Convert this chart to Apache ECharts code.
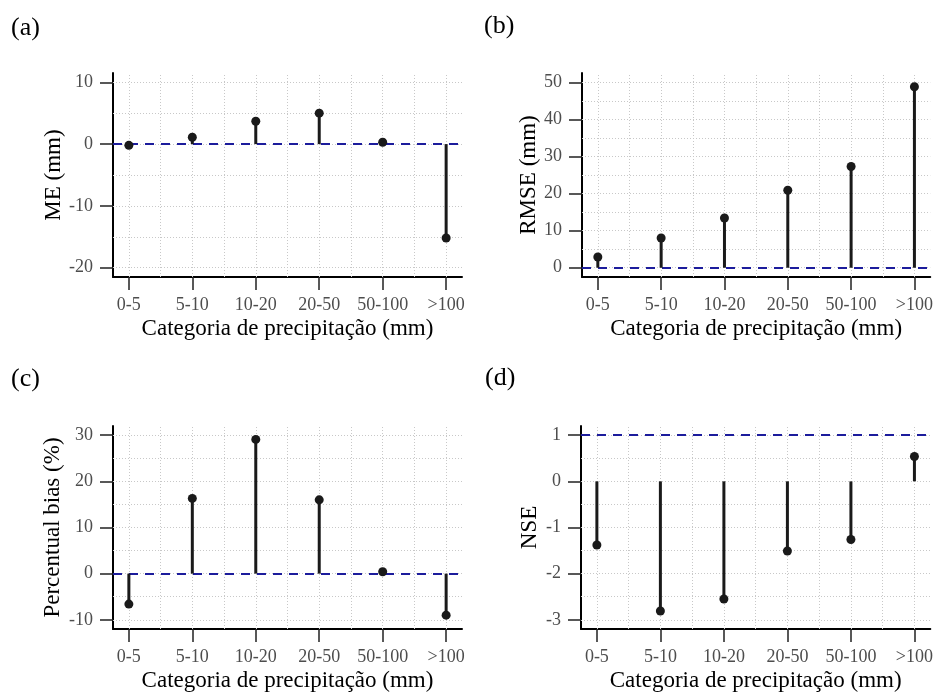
<!DOCTYPE html>
<html>
<head>
<meta charset="utf-8">
<script src="https://cdn.jsdelivr.net/npm/echarts@6/dist/echarts.min.js"></script>
<style>
  html, body { margin: 0; padding: 0; background: #fff; }
  #main { width: 936px; height: 693px; }
</style>
</head>
<body>
<div id="main"></div>
<script>
var categories = ['0-5', '5-10', '10-20', '20-50', '50-100', '>100'];
var catPos = [1, 2, 3, 4, 5, 6];

var meValues = [-0.2, 1.1, 3.7, 5.0, 0.3, -15.2];
var rmseValues = [2.9, 8.0, 13.4, 20.9, 27.3, 48.8];
var pbiasValues = [-6.6, 16.3, 29.1, 16.0, 0.4, -9.0];
var nseValues = [-1.38, -2.81, -2.55, -1.51, -1.26, 0.54];

var meTicks = [-20, -10, 0, 10];
var rmseTicks = [0, 10, 20, 30, 40, 50];
var pbiasTicks = [-10, 0, 10, 20, 30];
var nseTicks = [-3, -2, -1, 0, 1];

var meGrid = [-20, -15, -10, -5, 0, 5, 10];
var rmseGrid = [0, 5, 10, 15, 20, 25, 30, 35, 40, 45, 50];
var pbiasGrid = [-10, -5, 0, 5, 10, 15, 20, 25, 30];
var nseGrid = [-3, -2.5, -2, -1.5, -1, -0.5, 0, 0.5, 1];
var xGrid = [1, 1.5, 2, 2.5, 3, 3.5, 4, 4.5, 5, 5.5, 6];

var serif = "'Liberation Serif', 'DejaVu Serif', serif";

var chart = echarts.init(document.getElementById('main'), null, { renderer: 'canvas' });

var panels = [
  { tag: '(a)', name: 'ME (mm)', values: meValues, ticks: meTicks, grid: meGrid,
    min: -21.5, max: 11.5, ref: 0, gap: 48,
    box: { left: 113, top: 73, width: 349, height: 204 }, tagPos: [11, 15] },
  { tag: '(b)', name: 'RMSE (mm)', values: rmseValues, ticks: rmseTicks, grid: rmseGrid,
    min: -2.5, max: 52.5, ref: 0, gap: 42,
    box: { left: 582, top: 73, width: 349, height: 204 }, tagPos: [484, 13] },
  { tag: '(c)', name: 'Percentual bias (%)', values: pbiasValues, ticks: pbiasTicks, grid: pbiasGrid,
    min: -12, max: 32, ref: 0, gap: 49,
    box: { left: 113, top: 426, width: 349, height: 204 }, tagPos: [11, 366] },
  { tag: '(d)', name: 'NSE', values: nseValues, ticks: nseTicks, grid: nseGrid,
    min: -3.2, max: 1.2, ref: 1, gap: 40,
    box: { left: 581, top: 426, width: 350, height: 205 }, tagPos: [485, 365] }
];

var option = { animation: false, title: [], grid: [], xAxis: [], yAxis: [], series: [] };

panels.forEach(function (p, i) {
  option.title.push({
    text: p.tag, left: p.tagPos[0], top: p.tagPos[1], padding: 0,
    textStyle: { fontFamily: serif, fontSize: 26, fontWeight: 'normal', color: '#000' }
  });
  option.grid.push(p.box);

  option.xAxis.push({
    type: 'value', gridIndex: i, min: 0.75, max: 6.25,
    name: 'Categoria de precipitação (mm)', nameLocation: 'middle', nameGap: 40,
    nameTextStyle: { fontFamily: serif, fontSize: 23, color: '#000' },
    axisLine: { show: true, onZero: false, lineStyle: { color: '#000', width: 2 } },
    axisTick: { show: true, length: 13, customValues: catPos, lineStyle: { color: '#222', width: 1.5 } },
    axisLabel: {
      customValues: catPos, margin: 19, fontFamily: serif, fontSize: 18, color: '#4d4d4d',
      formatter: function (v) { return categories[Math.round(v) - 1] || ''; }
    },
    splitLine: { show: false }
  });

  option.yAxis.push({
    type: 'value', gridIndex: i, min: p.min, max: p.max,
    name: p.name, nameLocation: 'middle', nameGap: p.gap,
    nameTextStyle: { fontFamily: serif, fontSize: 23, color: '#000' },
    axisLine: { show: true, onZero: false, lineStyle: { color: '#000', width: 2 } },
    axisTick: { show: true, length: 13, customValues: p.ticks, lineStyle: { color: '#222', width: 1.5 } },
    axisLabel: { customValues: p.ticks, margin: 20, fontFamily: serif, fontSize: 18, color: '#4d4d4d' },
    splitLine: { show: false }
  });

  var gridLines = xGrid.map(function (x) { return { xAxis: x }; })
    .concat(p.grid.map(function (y) { return { yAxis: y }; }));

  // background dotted grid
  option.series.push({
    type: 'line', xAxisIndex: i, yAxisIndex: i, data: [], silent: true, z: 1,
    markLine: {
      z: 1, silent: true, symbol: 'none', animation: false,
      label: { show: false },
      lineStyle: { type: [1, 2], color: '#c8c8c8', width: 1 },
      data: gridLines
    }
  });

  // reference line
  option.series.push({
    type: 'line', xAxisIndex: i, yAxisIndex: i, data: [], silent: true, z: 2,
    markLine: {
      z: 2, silent: true, symbol: 'none', animation: false,
      label: { show: false },
      lineStyle: { type: [9, 7], color: '#1c1c9c', width: 2 },
      data: [{ yAxis: p.ref }]
    }
  });

  var pts = p.values.map(function (v, k) { return [catPos[k], v]; });

  // stems from zero
  option.series.push({
    type: 'custom', xAxisIndex: i, yAxisIndex: i, data: pts, z: 3,
    renderItem: function (params, api) {
      var a = api.coord([api.value(0), 0]);
      var b = api.coord([api.value(0), api.value(1)]);
      return {
        type: 'line',
        shape: { x1: a[0], y1: a[1], x2: b[0], y2: b[1] },
        style: { stroke: '#1a1a1a', lineWidth: 3 }
      };
    }
  });

  option.series.push({
    type: 'scatter', xAxisIndex: i, yAxisIndex: i, data: pts, z: 4,
    symbol: 'circle', symbolSize: 9,
    itemStyle: { color: '#1a1a1a', opacity: 1 }
  });
});

chart.setOption(option);
</script>
</body>
</html>
